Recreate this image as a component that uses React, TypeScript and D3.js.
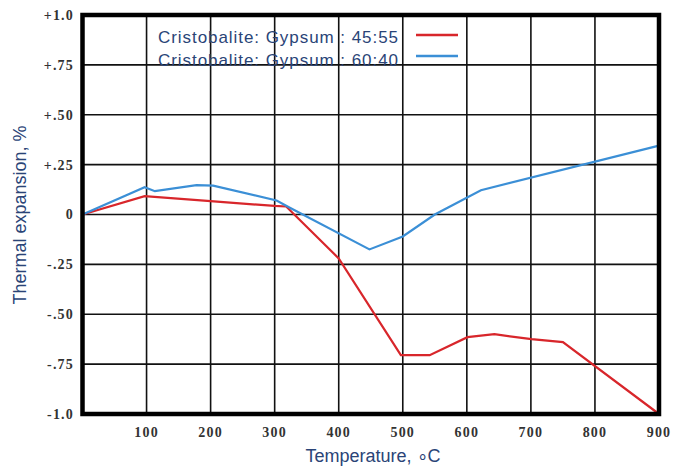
import React, { useEffect, useRef } from 'react';
import * as d3 from 'd3';

const redTemp = [0, 97, 200, 300, 318, 400, 497, 542, 601, 643, 701, 750, 900];
const redExp = [0, 0.092, 0.067, 0.043, 0.04, -0.22, -0.705, -0.705, -0.615, -0.6, -0.625, -0.64, -1.0];

const blueTemp = [0, 97, 113, 178, 204, 303, 323, 448, 500, 550, 622, 900];
const blueExp = [0, 0.137, 0.117, 0.147, 0.145, 0.07, 0.035, -0.175, -0.11, 0.0, 0.122, 0.345];

const xTicks = [100, 200, 300, 400, 500, 600, 700, 800, 900];
const yTicks = [1, 0.75, 0.5, 0.25, 0, -0.25, -0.5, -0.75, -1];
const yTickLabels = ['+1.0', '+.75', '+.50', '+.25', '0', '-.25', '-.50', '-.75', '-1.0'];

const legendLabels = ['Cristobalite: Gypsum  : 45:55', 'Cristobalite: Gypsum  : 60:40'];
const seriesColors = ['#d8262b', '#3b8fd6'];

const App = () => {
  const ref = useRef<SVGSVGElement>(null);

  useEffect(() => {
    const svg = d3.select(ref.current);
    svg.selectAll('*').remove();

    const x = d3.scaleLinear().domain([0, 900]).range([82.5, 659]);
    const y = d3.scaleLinear().domain([-1, 1]).range([414, 15]);

    // grid
    const grid = svg.append('g').attr('stroke', '#111').attr('stroke-width', 1.6);
    grid.selectAll('.vg')
      .data(xTicks.filter(t => t < 900))
      .enter()
      .append('line')
      .attr('x1', d => x(d)).attr('x2', d => x(d))
      .attr('y1', y(1)).attr('y2', y(-1));
    grid.selectAll('.hg')
      .data(yTicks.filter(t => t > -1 && t < 1))
      .enter()
      .append('line')
      .attr('x1', x(0)).attr('x2', x(900))
      .attr('y1', d => y(d)).attr('y2', d => y(d));

    // tick labels
    svg.append('g')
      .selectAll('text')
      .data(yTicks)
      .enter()
      .append('text')
      .attr('x', 74)
      .attr('y', d => y(d))
      .attr('dy', '0.35em')
      .attr('text-anchor', 'end')
      .attr('font-family', '"Liberation Serif", serif')
      .attr('font-weight', 'bold')
      .attr('font-size', 14)
      .attr('letter-spacing', 1.2)
      .attr('fill', '#333')
      .text((d, i) => yTickLabels[i]);

    svg.append('g')
      .selectAll('text')
      .data(xTicks)
      .enter()
      .append('text')
      .attr('x', d => x(d))
      .attr('y', 437)
      .attr('text-anchor', 'middle')
      .attr('font-family', '"Liberation Serif", serif')
      .attr('font-weight', 'bold')
      .attr('font-size', 14)
      .attr('letter-spacing', 1.2)
      .attr('fill', '#333')
      .text(d => d);

    // lines
    const line = d3.line<[number, number]>()
      .x(d => x(d[0]))
      .y(d => y(d[1]));

    const series = [
      redTemp.map((t, i) => [t, redExp[i]] as [number, number]),
      blueTemp.map((t, i) => [t, blueExp[i]] as [number, number])
    ];

    svg.append('g')
      .selectAll('path')
      .data(series)
      .enter()
      .append('path')
      .attr('d', d => line(d))
      .attr('fill', 'none')
      .attr('stroke', (d, i) => seriesColors[i])
      .attr('stroke-width', 2.2);

    // frame
    svg.append('rect')
      .attr('x', x(0))
      .attr('y', y(1))
      .attr('width', x(900) - x(0))
      .attr('height', y(-1) - y(1))
      .attr('fill', 'none')
      .attr('stroke', '#000')
      .attr('stroke-width', 4.5);

    // legend
    const legend = svg.append('g');
    legendLabels.forEach((label, i) => {
      legend.append('text')
        .attr('x', 158)
        .attr('y', 43 + i * 23)
        .attr('font-family', 'Arial, "Liberation Sans", sans-serif')
        .attr('font-size', 17)
        .attr('textLength', 240)
        .attr('fill', '#2a4477')
        .text(label);
      legend.append('line')
        .attr('x1', 416).attr('x2', 458)
        .attr('y1', 35 + i * 21).attr('y2', 35 + i * 21)
        .attr('stroke', seriesColors[i])
        .attr('stroke-width', 2.5);
    });

    // axis titles
    svg.append('text')
      .attr('x', 373)
      .attr('y', 462)
      .attr('text-anchor', 'middle')
      .attr('font-family', 'Arial, "Liberation Sans", sans-serif')
      .attr('font-size', 18)
      .attr('fill', '#2a4477')
      .text('Temperature, \u2218C');

    svg.append('text')
      .attr('transform', 'translate(26,215) rotate(-90)')
      .attr('text-anchor', 'middle')
      .attr('font-family', 'Arial, "Liberation Sans", sans-serif')
      .attr('font-size', 18)
      .attr('fill', '#2a4477')
      .text('Thermal expansion, %');
  }, []);

  return (
    <svg
      ref={ref}
      width={674}
      height={467}
      style={{ position: 'absolute', left: 0, top: 0, background: '#fff' }}
    />
  );
};

export default App;
